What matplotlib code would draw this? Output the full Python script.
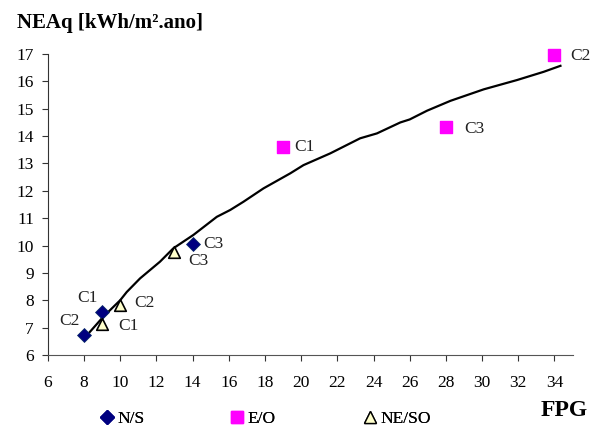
import numpy as np
import matplotlib.pyplot as plt
from matplotlib.lines import Line2D

plt.rcParams['font.family'] = ['Liberation Serif', 'DejaVu Serif']

# curva de ajuste
curve_x = [8.0, 9.07, 10.0, 10.36, 11.1, 12.2, 12.94, 14.05, 15.34, 16.08, 16.81, 17.92,
           19.4, 20.13, 21.61, 23.26, 24.19, 25.48, 26.0, 26.96, 28.25, 30.09, 31.93, 33.4, 34.33]
curve_y = [6.6, 7.4, 8.0, 8.3, 8.8, 9.41, 9.9, 10.39, 11.05, 11.3, 11.6, 12.09,
           12.64, 12.94, 13.37, 13.92, 14.1, 14.5, 14.61, 14.93, 15.29, 15.71, 16.05, 16.35, 16.57]

# N/S
ns_x = [9, 8, 14]
ns_y = [7.58, 6.73, 10.06]
ns_lab = ['C1', 'C2', 'C3']
# E/O
eo_x = [19, 34, 28]
eo_y = [13.59, 16.97, 14.35]
eo_lab = ['C1', 'C2', 'C3']
# NE/SO
neso_x = [9, 10, 13]
neso_y = [7.12, 7.83, 9.76]
neso_lab = ['C1', 'C2', 'C3']

fig = plt.figure(figsize=(5.95, 4.29), dpi=100)
ax = fig.add_axes([0.0803, 0.1725, 0.882, 0.7015])

ax.plot(curve_x, curve_y, color='black', lw=1.6, zorder=2)
ax.scatter(ns_x, ns_y, marker='D', s=50, color='#000080', edgecolor='#0a2a6a', lw=0.6,
           zorder=3, clip_on=False)
ax.scatter(eo_x, eo_y, marker='s', s=65, color='#ff00ff', edgecolor='#ff00ff',
           zorder=3, clip_on=False)
ax.scatter(neso_x, neso_y, marker='^', s=70, color='#ffffcc', edgecolor='black', lw=1.2,
           zorder=3, clip_on=False)

# rotulos dos pontos (deslocamento em pontos, alinhamento)
offsets_ns = [((-3, 10), 'right'), ((-3, 10), 'right'), ((8, 0), 'left')]
offsets_eo = [((8, 0), 'left'), ((11, -1), 'left'), ((13, -1.5), 'left')]
offsets_neso = [((12, -1.5), 'left'), ((10, 1.5), 'left'), ((10, -6.5), 'left')]
for xs, ys, labs, offs in [(ns_x, ns_y, ns_lab, offsets_ns),
                           (eo_x, eo_y, eo_lab, offsets_eo),
                           (neso_x, neso_y, neso_lab, offsets_neso)]:
    for x, y, t, (o, ha) in zip(xs, ys, labs, offs):
        ax.annotate(t, (x, y), xytext=o, textcoords='offset points',
                    fontsize=12.5, va='center', ha=ha, color='#222222')

ax.set_xlim(6, 35)
ax.set_ylim(6, 17)
ax.set_xticks(np.arange(6, 35, 2))
ax.set_yticks(np.arange(6, 18, 1))
ax.spines['top'].set_visible(False)
ax.spines['right'].set_visible(False)
ax.spines['left'].set_color('#333333')
ax.spines['bottom'].set_color('#555555')
ax.tick_params(labelsize=12.5, colors='#333333', labelcolor='black')
ax.tick_params(axis='x', length=4.5, pad=10)
ax.tick_params(axis='y', length=4, pad=6)

fig.text(0.028, 0.935, 'NEAq [kWh/m².ano]', fontsize=15, fontweight='bold')
fig.text(0.987, 0.044, 'FPG', fontsize=17, fontweight='bold', ha='right', va='center')

# legenda em baixo, cada entrada posicionada separadamente
leg_items = [
    (Line2D([], [], marker='D', ls='', color='#000080', markersize=7), 'N/S', 0.168),
    (Line2D([], [], marker='s', ls='', color='#ff00ff', markersize=8), 'E/O', 0.387),
    (Line2D([], [], marker='^', ls='', markerfacecolor='#ffffcc', markeredgecolor='black',
            markersize=8), 'NE/SO', 0.610),
]
for h, lab, xpos in leg_items:
    leg = fig.legend([h], [lab], loc='center left', bbox_to_anchor=(xpos, 0.023),
                     frameon=False, fontsize=12.5, handlelength=0.8, handletextpad=0.2,
                     borderpad=0, borderaxespad=0)
    fig.add_artist(leg)

fig.savefig('out.png', dpi=100)
